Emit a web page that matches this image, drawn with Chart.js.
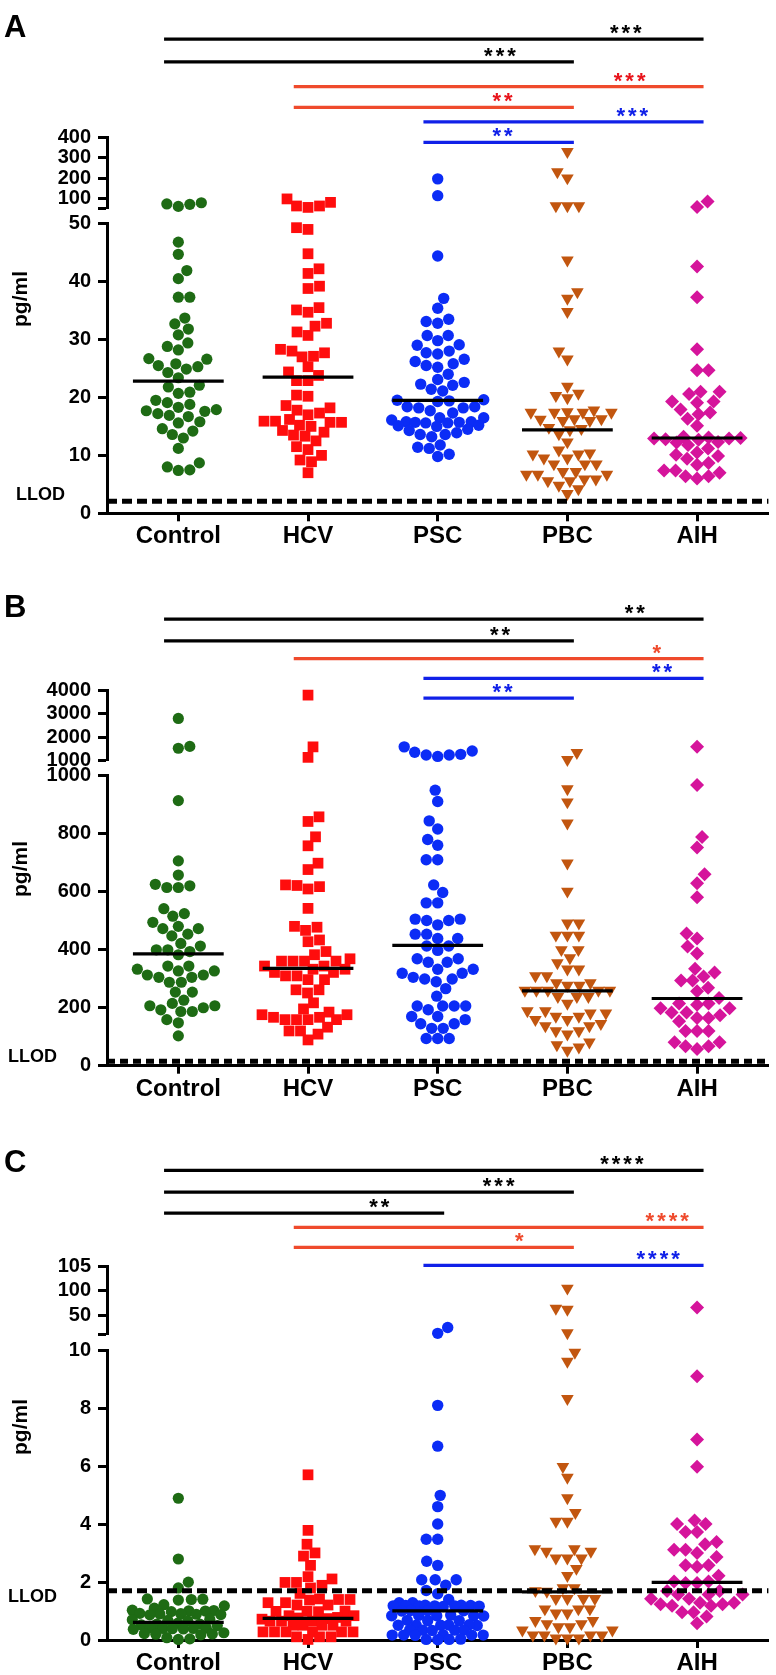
<!DOCTYPE html>
<html>
<head>
<meta charset="utf-8">
<script src="https://cdn.jsdelivr.net/npm/chart.js@4.4.1/dist/chart.umd.min.js"></script>
<style>
    body { margin: 0; background: #fff; width: 776px; height: 1675px; position: relative; overflow: hidden; }
    canvas { position: absolute; left: 0; }
</style>
</head>
<body>
<canvas id="panel-a" width="776" height="556" style="top:0px"></canvas>
<canvas id="panel-b" width="776" height="556" style="top:556px"></canvas>
<canvas id="panel-c" width="776" height="563" style="top:1112px"></canvas>
<script>
const groups = ['Control', 'HCV', 'PSC', 'PBC', 'AIH'];

// ---- Panel A ----
const controlA = [78, 70, 60, 72, 46.8, 44.7, 41.9, 40.5, 37.3, 37.3, 33.7, 32.7, 31.8, 30.8, 29.4, 28.8, 28.2, 26.7, 26.6, 25.8, 25.5, 25.3, 24.9, 24.3, 23.4, 22.1, 21.8, 20.9, 20.7, 19.5, 19.1, 18.8, 18.3, 17.9, 17.7, 17.6, 17.2, 16.9, 16.7, 15.8, 15.6, 14.6, 14.2, 13.6, 13.0, 11.2, 8.7, 8.0, 7.4, 7.5];
const hcvA = [97, 80, 62, 55, 62, 49.3, 49.0, 44.8, 42.2, 41.4, 39.2, 38.8, 35.5, 35.1, 34.7, 32.8, 32.3, 31.3, 30.7, 28.3, 28.0, 27.7, 27.1, 27.0, 25.3, 24.4, 23.8, 22.9, 22.9, 20.4, 20.2, 18.6, 18.2, 17.8, 17.3, 17.0, 16.2, 15.9, 15.9, 15.7, 15.7, 15.2, 15.0, 14.3, 14.0, 13.5, 13.3, 12.5, 11.5, 11.0, 10.0, 9.2, 8.9, 7.0];
const pscA = [196, 113, 44.4, 37.1, 35.4, 33.5, 33.1, 32.8, 30.7, 30.7, 29.8, 29.1, 29.0, 28.0, 27.7, 27.5, 26.6, 26.2, 25.8, 25.5, 25.2, 24.0, 23.1, 22.6, 22.3, 22.1, 21.4, 21.1, 19.6, 19.5, 19.4, 19.3, 18.4, 18.4, 18.2, 18.2, 17.7, 17.3, 16.5, 16.5, 16.1, 15.8, 15.8, 15.7, 15.7, 15.6, 15.6, 15.2, 15.1, 15.0, 14.5, 14.3, 13.9, 13.6, 13.6, 13.2, 11.8, 11.4, 11.2, 10.2, 9.8];
const pbcA = [330, 230, 200, 62, 62, 62, 43.7, 38.2, 37.1, 34.8, 28.0, 26.6, 21.9, 20.7, 20.3, 19.9, 17.8, 17.4, 17.4, 17.4, 17.4, 17.5, 16.0, 16.3, 16.3, 16.2, 16.0, 14.6, 14.8, 14.4, 13.7, 12.3, 10.9, 10.4, 9.5, 9.5, 10.2, 10.2, 8.5, 8.5, 8.5, 7.2, 6.7, 6.7, 7.2, 6.7, 5.9, 5.6, 5.6, 5.9, 4.8, 4.2, 3.4];
const aihA = [84, 57, 42.6, 37.3, 28.3, 24.7, 24.7, 21.0, 20.6, 21.0, 19.3, 19.1, 19.3, 17.9, 17.4, 17.1, 16.3, 15.1, 13.2, 13.0, 12.9, 12.9, 12.8, 13.1, 12.7, 12.3, 12.2, 11.8, 11.2, 10.5, 10.1, 9.4, 9.9, 8.7, 8.4, 7.4, 7.4, 7.0, 6.4, 6.4, 6.0];
const mediansA = [22.8, 23.5, 19.5, 14.4, 13.0];
const llodA = 2.1;
const lowTicksA = [0, 10, 20, 30, 40, 50];
const upTicksA = [50, 100, 200, 300, 400];
const upLabelsA = ['', '100', '200', '300', '400'];
const sigFromA = [0, 0, 1, 1, 2, 2];
const sigToA = [4, 3, 4, 3, 4, 3];
const sigStarsA = ['***', '***', '***', '**', '***', '**'];
const sigRowA = [0, 1.1, 2.3, 3.3, 4, 5];
const sigStarAtA = [3.45, 2.48, 3.48, 2.5, 3.5, 2.5];

// ---- Panel B ----
const controlB = [2800, 1600, 1520, 915, 707, 658, 626, 621, 615, 615, 542, 525, 516, 495, 481, 473, 473, 454, 448, 422, 413, 400, 400, 394, 383, 344, 344, 333, 327, 327, 313, 313, 305, 305, 288, 288, 254, 254, 226, 215, 207, 207, 200, 193, 187, 187, 159, 148, 103];
const hcvB = [3800, 1580, 1130, 859, 843, 790, 759, 699, 677, 624, 622, 618, 610, 543, 481, 478, 467, 434, 428, 394, 383, 369, 361, 361, 361, 361, 344, 344, 333, 333, 322, 322, 310, 310, 297, 297, 262, 262, 251, 217, 196, 185, 176, 176, 167, 167, 159, 159, 159, 159, 133, 120, 120, 109, 89];
const pscB = [1580, 1400, 1350, 1260, 1230, 1230, 1170, 951, 912, 845, 817, 781, 761, 711, 711, 624, 598, 562, 562, 506, 506, 501, 501, 486, 454, 454, 439, 439, 413, 413, 398, 369, 369, 357, 357, 333, 333, 319, 319, 305, 299, 299, 290, 266, 240, 206, 206, 206, 206, 193, 170, 170, 159, 145, 145, 129, 129, 94, 94, 94];
const pbcB = [1330, 1030, 955, 910, 837, 699, 602, 492, 492, 450, 450, 450, 400, 400, 372, 355, 333, 333, 310, 310, 286, 286, 277, 277, 260, 260, 260, 260, 260, 238, 238, 238, 215, 189, 189, 181, 181, 170, 170, 159, 159, 145, 137, 137, 120, 120, 109, 81, 72, 64, 53];
const aihB = [1580, 969, 789, 753, 661, 630, 581, 456, 439, 411, 387, 335, 322, 308, 294, 294, 269, 257, 234, 215, 215, 210, 198, 198, 184, 184, 174, 165, 165, 153, 120, 120, 120, 81, 81, 67, 67, 58];
const mediansB = [386, 336, 415, 258, 232];
const llodB = 15;
const lowTicksB = [0, 200, 400, 600, 800, 1000];
const upTicksB = [1000, 2000, 3000, 4000];
const upLabelsB = ['1000', '2000', '3000', '4000'];
const sigFromB = [0, 0, 1, 2, 2];
const sigToB = [4, 3, 4, 4, 3];
const sigStarsB = ['**', '**', '*', '**', '**'];
const sigRowB = [0, 1.1, 2, 3, 4];
const sigStarAtB = [3.52, 2.48, 3.69, 3.73, 2.5];

// ---- Panel C ----
const controlC = [4.9, 2.8, 2.0, 1.8, 1.42, 1.40, 1.38, 1.41, 1.22, 1.18, 1.10, 1.03, 1.02, 1.00, 1.01, 0.98, 0.92, 0.90, 0.88, 0.87, 0.91, 0.89, 0.72, 0.70, 0.68, 0.66, 0.55, 0.55, 0.52, 0.50, 0.58, 0.42, 0.40, 0.40, 0.38, 0.41, 0.39, 0.37, 0.25, 0.22, 0.20, 0.18, 0.21, 0.08, 0.04, 0.02];
const hcvC = [5.71, 3.79, 3.31, 3.01, 2.90, 2.58, 2.19, 2.11, 1.99, 1.99, 1.89, 1.80, 1.61, 1.40, 1.40, 1.42, 1.38, 1.29, 1.29, 1.21, 1.21, 0.99, 0.99, 1.0, 0.98, 0.84, 0.84, 0.78, 0.76, 0.74, 0.72, 0.65, 0.65, 0.65, 0.65, 0.51, 0.51, 0.51, 0.51, 0.28, 0.28, 0.28, 0.28, 0.28, 0.28, 0.11, 0.11, 0.11, 0.02];
const pscC = [25, 13, 8.11, 6.70, 5.00, 4.61, 4.01, 3.48, 3.48, 2.72, 2.58, 2.08, 2.08, 2.08, 1.89, 1.71, 1.60, 1.40, 1.29, 1.29, 1.20, 1.19, 1.18, 1.18, 1.17, 1.18, 1.19, 1.16, 1.18, 1.20, 1.01, 1.01, 1.02, 1.00, 0.84, 0.85, 0.84, 0.83, 0.84, 0.86, 0.67, 0.67, 0.68, 0.51, 0.52, 0.51, 0.50, 0.51, 0.53, 0.34, 0.34, 0.35, 0.33, 0.34, 0.17, 0.17, 0.18, 0.16, 0.17, 0.17, 0.02, 0.02, 0.03, 0.01];
const pbcC = [105, 64, 62, 14, 9.94, 9.63, 8.34, 5.99, 5.62, 4.91, 4.40, 4.10, 4.10, 3.15, 3.15, 3.06, 3.06, 2.83, 2.83, 2.83, 2.47, 2.22, 1.80, 1.80, 1.70, 1.68, 1.43, 1.43, 1.43, 1.43, 1.07, 1.07, 1.07, 0.93, 0.93, 0.67, 0.67, 0.56, 0.56, 0.45, 0.45, 0.34, 0.34, 0.17, 0.17, 0.17, 0.17, 0.06, 0.06, 0.06];
const aihC = [66, 9.12, 6.93, 5.99, 4.13, 4.01, 4.01, 3.73, 3.73, 3.39, 3.31, 3.12, 3.12, 3.01, 2.87, 2.58, 2.58, 2.53, 2.22, 2.02, 2.02, 1.97, 1.97, 1.69, 1.69, 1.57, 1.57, 1.57, 1.43, 1.43, 1.29, 1.29, 1.24, 1.24, 1.18, 1.18, 0.96, 0.96, 0.81, 0.58];
const mediansC = [0.61, 0.75, 1.01, 1.66, 1.99];
const llodC = 1.7;
const lowTicksC = [0, 2, 4, 6, 8, 10];
const upTicksC = [10, 50, 100, 150];
const upLabelsC = ['', '50', '100', '105'];
const sigFromC = [0, 0, 0, 1, 1, 2];
const sigToC = [4, 3, 2, 4, 3, 4];
const sigStarsC = ['****', '***', '**', '****', '*', '****'];
const sigRowC = [0, 1.15, 2.25, 3, 4.05, 5];
const sigStarAtC = [3.42, 2.47, 1.55, 3.77, 2.63, 3.7];

const FONT = "'Liberation Sans', Arial, sans-serif";
Chart.defaults.font.family = FONT;

// marker look per group
const groupStyle = [
    { color: '#1e6b14', shape: 'circle', r: 5.6, rot: 0 },
    { color: '#ff0d0d', shape: 'rect', r: 7.6, rot: 0 },
    { color: '#0b2cf6', shape: 'circle', r: 5.7, rot: 0 },
    { color: '#c2560f', shape: 'triangle', r: 7.3, rot: 180 },
    { color: '#d5149b', shape: 'rectRot', r: 7, rot: 0 },
];
const sigColors = ['#000000', '#ef4a2c', '#1020e8'];

// swarm spacing (pixels): minimum centre distance and half width of a column
const SWARM_D = 11.5;
const SWARM_HALF = 46;

// pixel layout of each panel (inside its own canvas)
const panels = [
    {
        canvas: 'panel-a', letter: 'A', h: 556,
        values: [controlA, hcvA, pscA, pbcA, aihA], medians: mediansA, llod: llodA,
        lowMax: 50, lowTicks: lowTicksA, upMin: 50, upMax: 400, upTicks: upTicksA, upLabels: upLabelsA,
        sigFrom: sigFromA, sigTo: sigToA, sigStars: sigStarsA, sigRow: sigRowA, sigStarAt: sigStarAtA, redStar: '#e8141b',
        L: { sigTop: 6, firstBar: 26.7, step: 21.2, upperTop: 127.7, upperBottom: 200.4, lowerTop: 216, lowerBottom: 513.3,
             letterY: 37, titleY: 299, llodX: 16, llodDy: -6, dash: [10, 5] }
    },
    {
        canvas: 'panel-b', letter: 'B', h: 556,
        values: [controlB, hcvB, pscB, pbcB, aihB], medians: mediansB, llod: llodB,
        lowMax: 1000, lowTicks: lowTicksB, upMin: 1000, upMax: 4000, upTicks: upTicksB, upLabels: upLabelsB,
        sigFrom: sigFromB, sigTo: sigToB, sigStars: sigStarsB, sigRow: sigRowB, sigStarAt: sigStarAtB, redStar: '#ef4a2c',
        L: { sigTop: 6, firstBar: 51.3, step: 20.25, upperTop: 124.5, upperBottom: 196.3, lowerTop: 212.3, lowerBottom: 509.7,
             letterY: 61, titleY: 313, llodX: 8, llodDy: -4, dash: [8, 5] }
    },
    {
        canvas: 'panel-c', letter: 'C', h: 563,
        values: [controlC, hcvC, pscC, pbcC, aihC], medians: mediansC, llod: llodC,
        lowMax: 10, lowTicks: lowTicksC, upMin: 10, upMax: 150, upTicks: upTicksC, upLabels: upLabelsC,
        sigFrom: sigFromC, sigTo: sigToC, sigStars: sigStarsC, sigRow: sigRowC, sigStarAt: sigStarAtC, redStar: '#ef4a2c',
        L: { sigTop: 6, firstBar: 46.3, step: 19.5, upperTop: 144.7, upperBottom: 215, lowerTop: 231.3, lowerBottom: 528,
             letterY: 60, titleY: 315, llodX: 8, llodDy: 6, dash: [10, 5] }
    }
];

const AXIS_X = 107;
const RIGHT_X = 771.7;
const X_MIN = -0.55, X_MAX = 4.55;

// beeswarm: each point sits as near the column centre as it can, overlapping only when the column is full
function swarmOffsets(pys) {
    const order = pys.map((y, i) => i).sort((a, b) => pys[b] - pys[a]);
    const xs = new Array(pys.length).fill(0);
    const placed = [];
    order.forEach((i, n) => {
        const y = pys[i];
        const near = placed.filter(j => Math.abs(pys[j] - y) < SWARM_D);
        let best = 0, bestGap = -1, done = false;
        for (let c = 0; c <= SWARM_HALF && !done; c += 0.5) {
            for (const x of (n % 2 ? [c, -c] : [-c, c])) {
                const gap = near.reduce((m, j) => Math.min(m, Math.hypot(xs[j] - x, pys[j] - y)), Infinity);
                if (gap >= SWARM_D) { best = x; done = true; break; }
                if (gap > bestGap) { bestGap = gap; best = x; }
            }
        }
        xs[i] = best;
        placed.push(i);
    });
    return xs;
}

function yAxis(extra) {
    return Object.assign({
        type: 'linear', position: 'left', stack: 'y',
        border: { display: true, color: '#000', width: 3 },
        grid: { display: true, drawOnChartArea: false, drawTicks: true, tickLength: 9, tickWidth: 3, tickColor: '#000' },
        ticks: { color: '#000', font: { size: 20, weight: 'bold' }, padding: 7, autoSkip: false, callback: v => String(v) },
        afterFit: s => { s.width = AXIS_X; }
    }, extra);
}

function hiddenAxis(extra) {
    return Object.assign({
        type: 'linear', position: 'left', stack: 'y', display: true,
        grid: { display: false }, border: { display: false }, ticks: { display: false }
    }, extra);
}

// text layer: panel letter, axis title, LLOD label and significance stars
function makeAnnotations(P) {
    return {
        id: 'annotations',
        afterDraw(chart) {
            const ctx = chart.ctx;
            const L = P.L;
            const xs = chart.scales.x, ySig = chart.scales.ySig, yLow = chart.scales.yLow;
            ctx.save();
            ctx.fillStyle = '#000';
            ctx.font = 'bold 31px ' + FONT;
            ctx.textAlign = 'left';
            ctx.textBaseline = 'alphabetic';
            ctx.fillText(P.letter, 4, L.letterY);

            ctx.save();
            ctx.translate(21, L.titleY);
            ctx.rotate(-Math.PI / 2);
            ctx.font = 'bold 21px ' + FONT;
            ctx.textAlign = 'center';
            ctx.textBaseline = 'middle';
            ctx.fillText('pg/ml', 0, 0);
            ctx.restore();

            ctx.font = 'bold 18px ' + FONT;
            ctx.textAlign = 'left';
            ctx.textBaseline = 'middle';
            ctx.fillText('LLOD', L.llodX, yLow.getPixelForValue(P.llod) + L.llodDy);

            ctx.font = 'bold 22px ' + FONT;
            ctx.letterSpacing = '3px';
            ctx.textAlign = 'center';
            ctx.textBaseline = 'alphabetic';
            P.sigStars.forEach((s, k) => {
                const from = P.sigFrom[k];
                ctx.fillStyle = from === 1 ? P.redStar : sigColors[from];
                ctx.fillText(s, xs.getPixelForValue(P.sigStarAt[k]) + 1.5, ySig.getPixelForValue(P.sigRow[k]) + 1);
            });
            ctx.restore();
        }
    };
}

function buildPanel(P) {
    const L = P.L;
    const sigMin = -(L.firstBar - L.sigTop) / L.step;
    const sigMax = sigMin + (L.upperTop - L.sigTop) / L.step;
    const datasets = [];

    // LLOD dashed line
    datasets.push({
        showLine: true, yAxisID: 'yLow', clip: false,
        data: [{ x: X_MIN, y: P.llod }, { x: X_MAX, y: P.llod }],
        borderColor: '#000', borderWidth: 5, borderDash: L.dash, pointRadius: 0
    });
    // median bars
    P.medians.forEach((m, g) => datasets.push({
        showLine: true, yAxisID: 'yLow', clip: false,
        data: [{ x: g - 0.35, y: m }, { x: g + 0.35, y: m }],
        borderColor: '#000', borderWidth: 3.2, pointRadius: 0
    }));
    // significance brackets
    P.sigFrom.forEach((f, k) => datasets.push({
        showLine: true, yAxisID: 'ySig', clip: false,
        data: [{ x: f - 0.11, y: P.sigRow[k] }, { x: P.sigTo[k] + 0.05, y: P.sigRow[k] }],
        borderColor: sigColors[f], borderWidth: 3.2, pointRadius: 0
    }));
    // points, split between the upper and lower axis segments
    P.values.forEach((vals, g) => {
        const st = groupStyle[g];
        [['yUp', v => v > P.lowMax], ['yLow', v => v <= P.lowMax]].forEach(([axis, keep]) => {
            datasets.push({
                group: g, yAxisID: axis, clip: false,
                data: vals.filter(keep).map(v => ({ x: g, y: v })),
                pointStyle: st.shape, pointRadius: st.r, pointRotation: st.rot,
                pointBackgroundColor: st.color, pointBorderWidth: 0, pointHoverRadius: st.r
            });
        });
    });

    // left axes are stacked bottom-up, so the lowest segment is listed first
    const chart = new Chart(document.getElementById(P.canvas), {
        type: 'scatter',
        data: { datasets },
        options: {
            responsive: false, animation: false, events: [],
            layout: { padding: { top: L.sigTop, left: 0, right: 776 - RIGHT_X, bottom: 0 } },
            plugins: { legend: { display: false }, tooltip: { enabled: false } },
            scales: {
                x: {
                    type: 'linear', position: 'bottom', min: X_MIN, max: X_MAX,
                    border: { display: true, color: '#000', width: 3 },
                    grid: { display: true, drawOnChartArea: false, drawTicks: true, tickLength: 8, tickWidth: 3, tickColor: '#000' },
                    ticks: { color: '#000', font: { size: 24, weight: 'bold' }, padding: 1, autoSkip: false, maxRotation: 0,
                             callback: v => groups[v] },
                    afterBuildTicks: s => { s.ticks = groups.map((g, i) => ({ value: i })); },
                    afterFit: s => { s.height = P.h - L.lowerBottom; }
                },
                yLow: yAxis({
                    min: 0, max: P.lowMax, stackWeight: L.lowerBottom - L.lowerTop,
                    afterBuildTicks: s => { s.ticks = P.lowTicks.map(v => ({ value: v })); }
                }),
                yGap: hiddenAxis({ min: 0, max: 1, stackWeight: L.lowerTop - L.upperBottom }),
                yUp: yAxis({
                    min: P.upMin, max: P.upMax, stackWeight: L.upperBottom - L.upperTop,
                    afterBuildTicks: s => { s.ticks = P.upTicks.map(v => ({ value: v })); },
                    ticks: { color: '#000', font: { size: 20, weight: 'bold' }, padding: 7, autoSkip: false,
                             callback: v => P.upLabels[P.upTicks.indexOf(v)] }
                }),
                ySig: hiddenAxis({ reverse: true, min: sigMin, max: sigMax, stackWeight: L.upperTop - L.sigTop })
            }
        },
        plugins: [makeAnnotations(P)]
    });

    // second pass: spread the points sideways now the scales know their pixels
    const xs = chart.scales.x;
    const unit = xs.getPixelForValue(1) - xs.getPixelForValue(0);
    chart.data.datasets.forEach(d => {
        if (d.group === undefined) return;
        const ys = chart.scales[d.yAxisID];
        const offs = swarmOffsets(d.data.map(p => ys.getPixelForValue(p.y)));
        d.data.forEach((p, i) => { p.x = d.group + offs[i] / unit; });
    });
    chart.update('none');
    return chart;
}

panels.forEach(buildPanel);
</script>
</body>
</html>
